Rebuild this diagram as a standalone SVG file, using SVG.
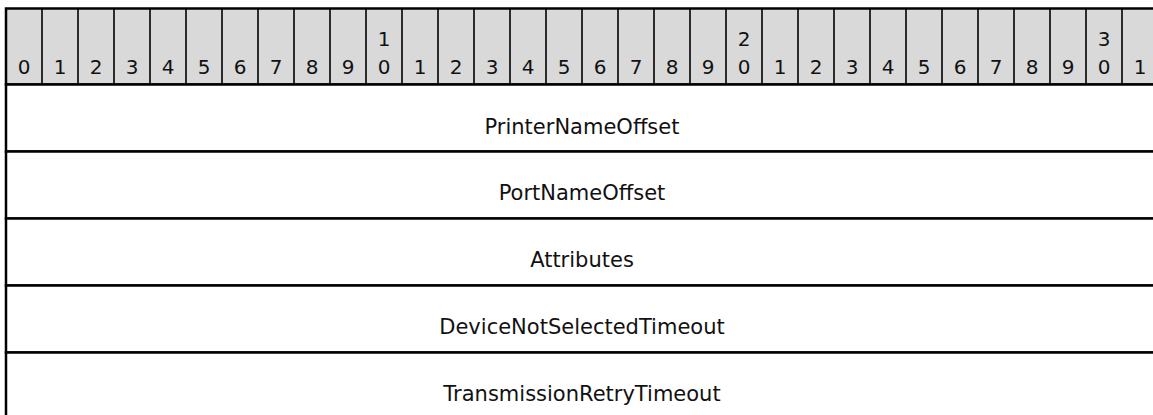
<svg xmlns="http://www.w3.org/2000/svg" width="1153" height="415" viewBox="0 0 1153 415">
<style>
.hdr{fill:#d9d9d9;stroke:#000;stroke-width:2.5}
.sep{stroke:#000;stroke-width:1.6}
.fld{fill:#fff;stroke:#000;stroke-width:2.5}
.d{font-family:"DejaVu Sans",Verdana,sans-serif;font-size:20px;fill:#111;text-anchor:middle}
.t{font-family:"DejaVu Sans",Verdana,sans-serif;font-size:21px;fill:#111;text-anchor:middle}
</style>
<rect width="1153" height="415" fill="#fff"/>
<g id="header">
<rect class="hdr" x="6" y="8.5" width="1152" height="76"/>
<g class="sep">
<line x1="42" y1="8.5" x2="42" y2="84.5"/><line x1="78" y1="8.5" x2="78" y2="84.5"/><line x1="114" y1="8.5" x2="114" y2="84.5"/><line x1="150" y1="8.5" x2="150" y2="84.5"/><line x1="186" y1="8.5" x2="186" y2="84.5"/><line x1="222" y1="8.5" x2="222" y2="84.5"/><line x1="258" y1="8.5" x2="258" y2="84.5"/><line x1="294" y1="8.5" x2="294" y2="84.5"/><line x1="330" y1="8.5" x2="330" y2="84.5"/><line x1="366" y1="8.5" x2="366" y2="84.5"/><line x1="402" y1="8.5" x2="402" y2="84.5"/><line x1="438" y1="8.5" x2="438" y2="84.5"/><line x1="474" y1="8.5" x2="474" y2="84.5"/><line x1="510" y1="8.5" x2="510" y2="84.5"/><line x1="546" y1="8.5" x2="546" y2="84.5"/><line x1="582" y1="8.5" x2="582" y2="84.5"/><line x1="618" y1="8.5" x2="618" y2="84.5"/><line x1="654" y1="8.5" x2="654" y2="84.5"/><line x1="690" y1="8.5" x2="690" y2="84.5"/><line x1="726" y1="8.5" x2="726" y2="84.5"/><line x1="762" y1="8.5" x2="762" y2="84.5"/><line x1="798" y1="8.5" x2="798" y2="84.5"/><line x1="834" y1="8.5" x2="834" y2="84.5"/><line x1="870" y1="8.5" x2="870" y2="84.5"/><line x1="906" y1="8.5" x2="906" y2="84.5"/><line x1="942" y1="8.5" x2="942" y2="84.5"/><line x1="978" y1="8.5" x2="978" y2="84.5"/><line x1="1014" y1="8.5" x2="1014" y2="84.5"/><line x1="1050" y1="8.5" x2="1050" y2="84.5"/><line x1="1086" y1="8.5" x2="1086" y2="84.5"/><line x1="1122" y1="8.5" x2="1122" y2="84.5"/>
</g>
<g class="d">
<text x="24" y="73.5">0</text><text x="60" y="73.5">1</text><text x="96" y="73.5">2</text><text x="132" y="73.5">3</text><text x="168" y="73.5">4</text><text x="204" y="73.5">5</text><text x="240" y="73.5">6</text><text x="276" y="73.5">7</text><text x="312" y="73.5">8</text><text x="348" y="73.5">9</text>
<text x="384" y="46">1</text><text x="384" y="73.5">0</text>
<text x="420" y="73.5">1</text><text x="456" y="73.5">2</text><text x="492" y="73.5">3</text><text x="528" y="73.5">4</text><text x="564" y="73.5">5</text><text x="600" y="73.5">6</text><text x="636" y="73.5">7</text><text x="672" y="73.5">8</text><text x="708" y="73.5">9</text>
<text x="744" y="46">2</text><text x="744" y="73.5">0</text>
<text x="780" y="73.5">1</text><text x="816" y="73.5">2</text><text x="852" y="73.5">3</text><text x="888" y="73.5">4</text><text x="924" y="73.5">5</text><text x="960" y="73.5">6</text><text x="996" y="73.5">7</text><text x="1032" y="73.5">8</text><text x="1068" y="73.5">9</text>
<text x="1104" y="46">3</text><text x="1104" y="73.5">0</text>
<text x="1140" y="73.5">1</text>
</g>
</g>
<g id="PrinterNameOffset"><rect class="fld" x="6" y="84.5" width="1152" height="67"/><text class="t" x="582" y="134">PrinterNameOffset</text></g>
<g id="PortNameOffset"><rect class="fld" x="6" y="151.5" width="1152" height="67"/><text class="t" x="582" y="200">PortNameOffset</text></g>
<g id="Attributes"><rect class="fld" x="6" y="218.5" width="1152" height="67"/><text class="t" x="582" y="267">Attributes</text></g>
<g id="DeviceNotSelectedTimeout"><rect class="fld" x="6" y="285.5" width="1152" height="67"/><text class="t" x="582" y="334">DeviceNotSelectedTimeout</text></g>
<g id="TransmissionRetryTimeout"><rect class="fld" x="6" y="352.5" width="1152" height="67"/><text class="t" x="582" y="401">TransmissionRetryTimeout</text></g>
<g id="connectors"/>
</svg>
